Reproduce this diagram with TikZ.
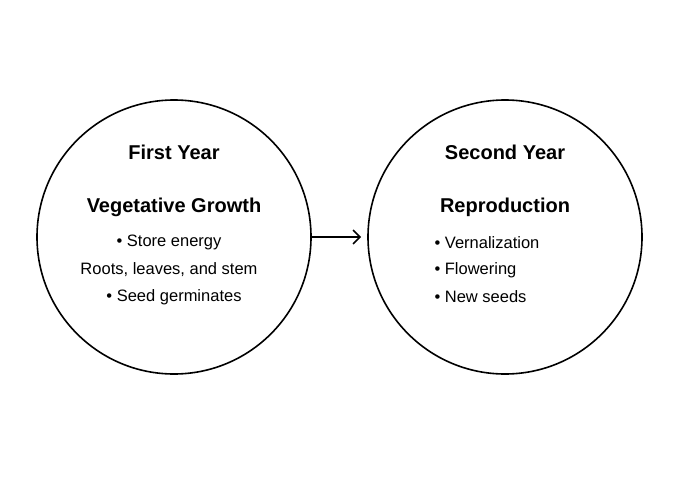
\documentclass[tikz,border=0pt]{standalone}
\usepackage{fontspec}
\setmainfont{Liberation Sans}
\usetikzlibrary{arrows.meta, positioning}
\tikzset{%
	year circle/.style={
		circle,
		draw,
		line width=1.6pt,
		minimum size=274pt
	},
	year title/.style={
		font=\fontsize{20}{24}\selectfont\bfseries
	},
	year item/.style={
		font=\fontsize{16.5}{20}\selectfont,
		anchor=west
	},
}
\begin{document}
\begin{tikzpicture}[x=1pt,y=-1pt]
			% Fix the page to the reference size
			\useasboundingbox (0,0) rectangle (700,500);
			
			% Draw the two years
			\node[year circle] (first) at (174,237) {};
			\node[year circle] (second) at (505,237) {};
			
			% Texts of the first year
			\node[year title] (firstTitle) at (174,152) {First Year};
			\node[year title] (firstStage) at (174,207) {Vegetative Growth};
			\node[font=\fontsize{16.5}{20}\selectfont] (firstA) at (169,242) {• Store energy};
			\node[font=\fontsize{16.5}{20}\selectfont] (firstB) at (169,270) {Roots, leaves, and stem};
			\node[font=\fontsize{16.5}{20}\selectfont] (firstC) at (174,297) {• Seed germinates};
			
			% Texts of the second year
			\node[year title] (secondTitle) at (505,152) {Second Year};
			\node[year title] (secondStage) at (505,207) {Reproduction};
			\foreach \item [count=\i] in {Vernalization,Flowering,New seeds} {
				\node[year item] (second\i) at (431,216+27*\i) {• \item};
			}
			
			% Draw the arrow between the years
			\draw[-{Straight Barb[length=7pt,width=14pt]}, line width=1.6pt] (first.east) -- ([xshift=-6pt]second.west);
			
		\end{tikzpicture}
\end{document}
